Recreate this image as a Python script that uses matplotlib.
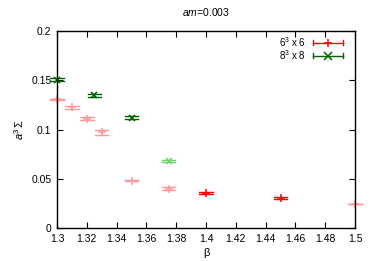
import numpy as np
import matplotlib
matplotlib.use("Agg")
import matplotlib.pyplot as plt

# data: 6^3 x 6
beta6 = [1.30, 1.31, 1.32, 1.33, 1.35, 1.375, 1.40, 1.45, 1.50]
sig6 = [0.1305, 0.1225, 0.111, 0.097, 0.048, 0.040, 0.036, 0.0305, 0.0244]
err6 = [0.0006, 0.0012, 0.0012, 0.003, 0.0006, 0.0012, 0.0010, 0.0010, 0.0004]
bold6 = [False, False, False, False, False, False, True, True, False]

# data: 8^3 x 8
beta8 = [1.30, 1.325, 1.35, 1.375]
sig8 = [0.1505, 0.1348, 0.112, 0.068]
err8 = [0.0016, 0.0013, 0.0013, 0.0013]
bold8 = [True, True, True, False]

xticks = [1.3, 1.32, 1.34, 1.36, 1.38, 1.4, 1.42, 1.44, 1.46, 1.48, 1.5]
yticks = [0, 0.05, 0.1, 0.15, 0.2]

plt.rcParams['font.family'] = ['Liberation Sans', 'DejaVu Sans']
plt.rcParams['mathtext.fontset'] = 'custom'
plt.rcParams['mathtext.rm'] = 'Liberation Sans'
plt.rcParams['mathtext.it'] = 'Liberation Sans:italic'
fig = plt.figure(figsize=(3.74, 2.61), dpi=100)
ax = fig.add_axes([57/374, 1-228/261, 298/374, 197/261])

capw = 0.0045  # half width of caps in beta units

def draw(xs, ys, es, bold, col_full, col_light, marker):
    for x, y, e, b in zip(xs, ys, es, bold):
        c = col_full if b else col_light
        kw = dict(color=c, lw=1, clip_on=False)
        ax.plot([x, x], [y - e, y + e], **kw)
        ax.plot([x - capw, x + capw], [y - e, y - e], **kw)
        ax.plot([x - capw, x + capw], [y + e, y + e], **kw)
        ax.plot([x], [y], marker=marker, ms=6 if marker == '+' else 5,
                mew=1.1, ls='none', **kw)

draw(beta6, sig6, err6, bold6, '#ff0000', '#ff9a9a', '+')
draw(beta8, sig8, err8, bold8, '#006400', '#6fd36f', 'x')

ax.set_xlim(1.3, 1.5)
ax.set_ylim(0, 0.2)
ax.set_xticks(xticks)
ax.set_xticklabels([f"{t:g}" for t in xticks])
ax.set_yticks(yticks)
ax.set_yticklabels([f"{t:g}" for t in yticks])
ax.tick_params(direction='in', top=True, right=True, labelsize=7.5, length=4, pad=4)
for s in ax.spines.values():
    s.set_linewidth(1)

ax.set_xlabel(r'β', fontsize=8, labelpad=3)
ax.set_ylabel(r'$a^3\,\Sigma$', fontsize=8, labelpad=4)
ax.set_title(r'$am$=0.003', fontsize=7.5, pad=11)

# legend drawn gnuplot style
lx0, lx1 = 313/374, 343/374
for yy, lab, col, mk in [(1-42.5/261, r'6$^3$ x 6', '#ff0000', '+'),
                         (1-55.5/261, r'8$^3$ x 8', '#006400', 'x')]:
    fig.text(306/374, yy, lab, ha='right', va='center', fontsize=7)
    fig.lines.append(plt.Line2D([lx0, lx1], [yy, yy], color=col, lw=1,
                                transform=fig.transFigure))
    for xe in (lx0, lx1):
        fig.lines.append(plt.Line2D([xe, xe], [yy - 2.5/261, yy + 2.5/261], color=col,
                                    lw=1, transform=fig.transFigure))
    fig.lines.append(plt.Line2D([(lx0 + lx1) / 2], [yy], color=col, marker=mk,
                                ms=6, mew=1.1, transform=fig.transFigure))

fig.savefig('out.png', dpi=100)
